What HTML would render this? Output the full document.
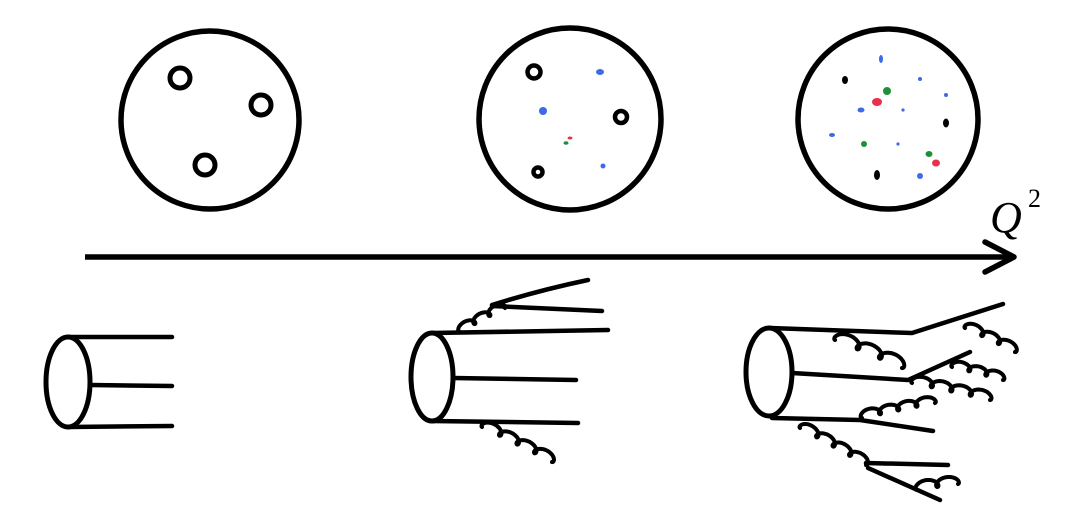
<!DOCTYPE html>
<html><head><meta charset="utf-8"><style>
html,body{margin:0;padding:0;background:#fff;width:1079px;height:522px;overflow:hidden}
svg{display:block}
</style></head><body>
<svg id="s" width="1079" height="522" viewBox="0 0 1079 522" xmlns="http://www.w3.org/2000/svg">
<g fill="none" stroke="#000" stroke-width="5.5" stroke-linecap="round">
<circle cx="210" cy="120" r="89"/>
<circle cx="570" cy="119" r="91"/>
<circle cx="888" cy="119" r="90"/>
<g stroke-width="5">
<circle cx="180" cy="78" r="10"/>
<circle cx="261" cy="105" r="10"/>
<circle cx="205" cy="165" r="10"/>
</g>
<g stroke-width="4.5">
<circle cx="534" cy="72" r="6.5"/>
<circle cx="621" cy="117" r="6"/>
<circle cx="538" cy="172" r="4.5"/>
</g>
</g>
<g stroke="none">
<ellipse cx="600" cy="72" rx="4" ry="3" fill="#3d6be8"/>
<circle cx="543" cy="111" r="4" fill="#3d6be8"/>
<ellipse cx="570" cy="138" rx="2.5" ry="1.5" fill="#e8304c"/>
<ellipse cx="566" cy="143" rx="2.5" ry="1.8" fill="#1f8f3a"/>
<circle cx="603" cy="166" r="2.5" fill="#3d6be8"/>
<ellipse cx="881" cy="59" rx="2" ry="4" fill="#3d6be8"/>
<ellipse cx="845" cy="80" rx="3" ry="4" fill="#000"/>
<circle cx="920" cy="79" r="2" fill="#3d6be8"/>
<circle cx="887" cy="91" r="4" fill="#1f8f3a"/>
<ellipse cx="877" cy="102" rx="5" ry="4" fill="#e8304c"/>
<ellipse cx="861" cy="110" rx="3.5" ry="2.5" fill="#3d6be8"/>
<circle cx="903" cy="110" r="1.6" fill="#3d6be8"/>
<circle cx="946" cy="95" r="2" fill="#3d6be8"/>
<ellipse cx="946" cy="123" rx="3" ry="4.5" fill="#000"/>
<ellipse cx="832" cy="135" rx="3" ry="2" fill="#3d6be8"/>
<circle cx="864" cy="144" r="3" fill="#1f8f3a"/>
<circle cx="898" cy="144" r="1.6" fill="#3d6be8"/>
<ellipse cx="929" cy="154" rx="3.5" ry="3" fill="#1f8f3a"/>
<ellipse cx="936" cy="163" rx="4" ry="3.5" fill="#e8304c"/>
<ellipse cx="877" cy="175" rx="3" ry="5" fill="#000"/>
<circle cx="920" cy="176" r="3" fill="#3d6be8"/>
</g>
<g>
<line x1="85" y1="257" x2="1008" y2="257" stroke="#000" stroke-width="5.5"/>
<polyline points="985,242 1014,257 985,272" fill="none" stroke="#000" stroke-width="5.5" stroke-linecap="round" stroke-linejoin="round"/>
<text x="990" y="232" font-family="Liberation Serif, serif" font-style="italic" font-size="44" fill="#000">Q</text>
<text x="1028" y="207" font-family="Liberation Serif, serif" font-size="26" fill="#000">2</text>
</g>
<g id="lines" fill="none" stroke="#000" stroke-width="4.5" stroke-linecap="round" stroke-linejoin="round">
<ellipse cx="68" cy="382" rx="22" ry="45" stroke-width="5"/>
<path d="M68,337 L172,337 M90,385 L172,386 M68,427 L172,426"/>
<ellipse cx="432" cy="377" rx="21" ry="44" stroke-width="5"/>
<path d="M432,333 L608,330 M492,305 Q540,290 588,280 M492,306 L602,311 M453,378 L576,380 M432,421 L578,423"/>
<ellipse cx="769" cy="372" rx="23" ry="44" stroke-width="5"/>
<path d="M770,328 L912,333 L1003,304 M792,373 L908,380 L970,352 M772,418 L860,420 L933,431 M866,463 L948,465 M868,468 L940,500"/>
</g>
</svg>
<script>
var gluons=[[460,332,505,308,3],[482,427,552,462,4],[835,340,902,368,3],[965,328,1015,352,3],[952,367,1003,380,3],[912,383,990,400,4],[862,418,935,403,4],[800,428,866,465,4],[917,490,958,484,2]];
var g=document.getElementById('lines');
gluons.forEach(function(q){
 var x0=q[0],y0=q[1],x1=q[2],y1=q[3],n=q[4];
 var dx=x1-x0,dy=y1-y0,L=Math.hypot(dx,dy),ux=dx/L,uy=dy/L,px=uy,py=-ux;
 if(py>0){px=-px;py=-py;}
 var d='',N=n*30,a=L/(2*Math.PI*n),b=a*1.6;
 for(var i=0;i<=N;i++){var t=i/N*2*Math.PI*n;
  var s=a*t-b*Math.sin(t), h=b*(1-Math.cos(t))*0.8;
  s=s*L/(a*2*Math.PI*n);
  var x=x0+ux*s+px*h,y=y0+uy*s+py*h;d+=(i?'L':'M')+x.toFixed(1)+','+y.toFixed(1);}
 var p=document.createElementNS('http://www.w3.org/2000/svg','path');
 p.setAttribute('d',d);p.setAttribute('stroke-width','4');
 
 
 g.appendChild(p);
});
</script>
</body></html>
